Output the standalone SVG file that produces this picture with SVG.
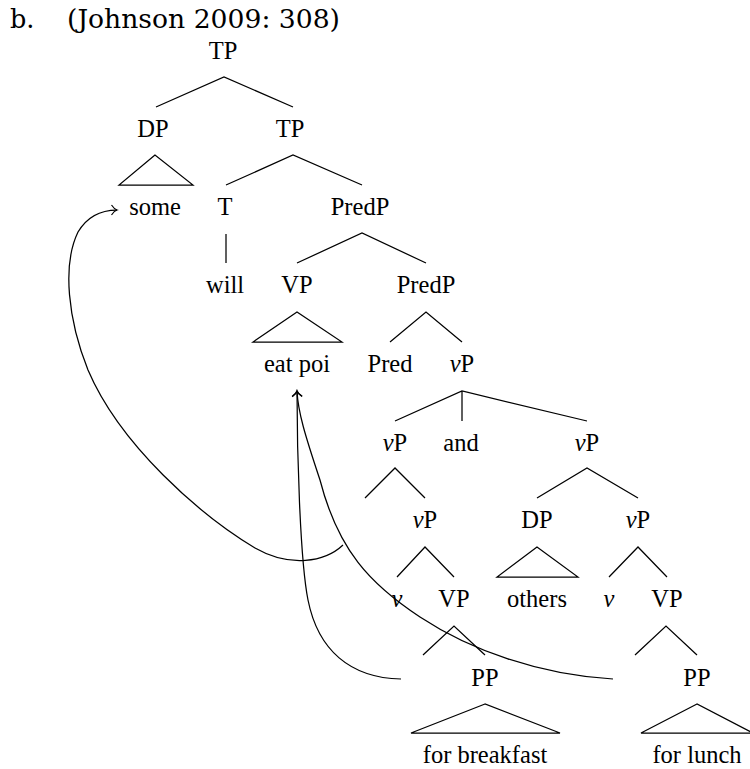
<svg xmlns="http://www.w3.org/2000/svg" width="750" height="769" viewBox="0 0 750 769">
  <style>
    .lbl { font-family: "Liberation Serif", "Times New Roman", serif; font-size: 24.5px; fill: #000; text-anchor: middle; }
    .hdr { font-family: "DejaVu Serif", serif; font-size: 25.5px; fill: #000; }
    .it { font-style: italic; }
    .edge { fill: none; stroke: #000; stroke-width: 1.25; stroke-linejoin: miter; }
    .move { fill: none; stroke: #000; stroke-width: 1.25; }
  </style>
  <defs>
    <marker id="tip" viewBox="-7 -7 14 14" refX="0" refY="0" markerWidth="14" markerHeight="14" markerUnits="userSpaceOnUse" orient="auto" overflow="visible">
      <path d="M-5.5,-5 C-3.5,-2 -1.5,-0.5 0,0 C-1.5,0.5 -3.5,2 -5.5,5" fill="none" stroke="#000" stroke-width="1.2"/>
    </marker>
  </defs>

  <rect width="750" height="769" fill="#fff"/>

  <!-- example heading -->
  <g id="heading">
    <text class="hdr" x="10" y="28">b.</text>
    <text class="hdr" x="67" y="28" textLength="273" lengthAdjust="spacingAndGlyphs">(Johnson 2009: 308)</text>
  </g>

  <!-- tree branches and triangles -->
  <g id="connectors">
    <path class="edge" d="M156,107 L224,77 L293,107"/>
    <path class="edge" d="M155,155 L119,185 L193,185 Z"/>
    <path class="edge" d="M226,185 L293,155 L362,185"/>
    <path class="edge" d="M226,234 L226,263"/>
    <path class="edge" d="M297,263 L362,233 L426,263"/>
    <path class="edge" d="M297,312 L253,342 L342,342 Z"/>
    <path class="edge" d="M390,342 L426,312 L462,342"/>
    <path class="edge" d="M395,421 L462,391 L587,421 M462,391 L462,421"/>
    <path class="edge" d="M365,498 L395,468 L425,498"/>
    <path class="edge" d="M537,498 L587,468 L638,498"/>
    <path class="edge" d="M397,577 L425,547 L454,577"/>
    <path class="edge" d="M537,547 L497,577 L578,577 Z"/>
    <path class="edge" d="M609,577 L638,547 L667,577"/>
    <path class="edge" d="M423,655 L454,626 L485,655"/>
    <path class="edge" d="M635,655 L666,626 L697,655"/>
    <path class="edge" d="M485,704 L411,733 L560,733 Z"/>
    <path class="edge" d="M697,704 L641,733 L753,733 Z"/>
  </g>

  <!-- movement arrows -->
  <g id="movement">
    <path class="move" marker-end="url(#tip)" d="M343,545 C325,562 290,568 255,548 C200,515 120,445 88,370 C68,320 62,265 78,232 C88,215 102,210 117,210"/>
    <path class="move" marker-end="url(#tip)" d="M401,679 C350,678 318,650 308,600 C300,560 297,450 297,391"/>
    <path class="move" marker-end="url(#tip)" d="M613,679 C540,675 470,650 420,617 C370,584 338,550 320,480 C305,435 298,412 297,391"/>
  </g>

  <!-- nodes -->
  <g id="n-tp-root"><text class="lbl" x="223" y="59">TP</text></g>
  <g id="n-dp-subj"><text class="lbl" x="153" y="137">DP</text></g>
  <g id="n-tp"><text class="lbl" x="290" y="137">TP</text></g>
  <g id="n-some"><text class="lbl" x="155" y="215">some</text></g>
  <g id="n-t"><text class="lbl" x="225" y="215">T</text></g>
  <g id="n-predp-1"><text class="lbl" x="360" y="215">PredP</text></g>
  <g id="n-will"><text class="lbl" x="225" y="293">will</text></g>
  <g id="n-vp-top"><text class="lbl" x="297" y="293">VP</text></g>
  <g id="n-predp-2"><text class="lbl" x="426" y="293">PredP</text></g>
  <g id="n-eat-poi"><text class="lbl" x="297" y="372">eat poi</text></g>
  <g id="n-pred"><text class="lbl" x="390" y="372">Pred</text></g>
  <g id="n-vp-conj"><text class="lbl" x="462" y="372"><tspan class="it">v</tspan>P</text></g>
  <g id="n-vp-left"><text class="lbl" x="395" y="451"><tspan class="it">v</tspan>P</text></g>
  <g id="n-and"><text class="lbl" x="461" y="451">and</text></g>
  <g id="n-vp-right"><text class="lbl" x="587" y="451"><tspan class="it">v</tspan>P</text></g>
  <g id="n-vp-left-2"><text class="lbl" x="425" y="528"><tspan class="it">v</tspan>P</text></g>
  <g id="n-dp-others"><text class="lbl" x="537" y="528">DP</text></g>
  <g id="n-vp-right-2"><text class="lbl" x="638" y="528"><tspan class="it">v</tspan>P</text></g>
  <g id="n-v-left"><text class="lbl it" x="397" y="607">v</text></g>
  <g id="n-vp-left-3"><text class="lbl" x="454" y="607">VP</text></g>
  <g id="n-others"><text class="lbl" x="537" y="607">others</text></g>
  <g id="n-v-right"><text class="lbl it" x="609" y="607">v</text></g>
  <g id="n-vp-right-3"><text class="lbl" x="667" y="607">VP</text></g>
  <g id="n-pp-left"><text class="lbl" x="485" y="686">PP</text></g>
  <g id="n-pp-right"><text class="lbl" x="697" y="686">PP</text></g>
  <g id="n-breakfast"><text class="lbl" x="485" y="763">for breakfast</text></g>
  <g id="n-lunch"><text class="lbl" x="697" y="763">for lunch</text></g>
</svg>
